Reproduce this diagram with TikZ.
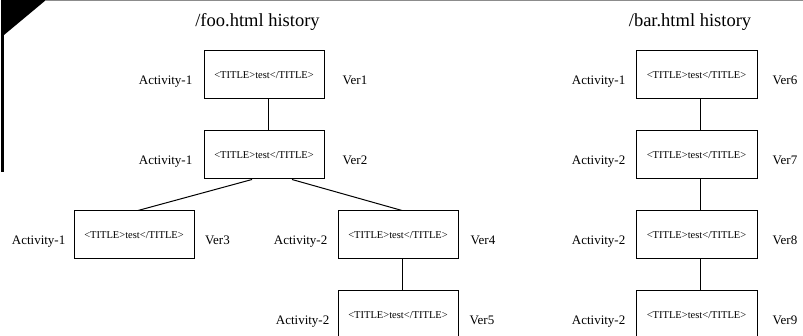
\documentclass[tikz,border=0pt]{standalone}
\usepackage{fontspec}
\setmainfont{Liberation Serif}
\usetikzlibrary{calc}
\tikzset{
  vbox/.style={draw=black, line width=1pt, minimum width=120pt, minimum height=48pt, inner sep=0pt, font=\fontsize{10.5}{12}\selectfont},
  wbox/.style={vbox, minimum width=121pt},
  act/.style={anchor=base east, inner sep=0pt, font=\fontsize{13}{15}\selectfont},
  ver/.style={anchor=base west, inner sep=0pt, font=\fontsize{13}{15}\selectfont},
  ttl/.style={anchor=base, inner sep=0pt, font=\fontsize{18.5}{21}\selectfont},
  link/.style={draw=black, line width=1pt}
}
\begin{document}
\begin{tikzpicture}[x=1pt,y=-1pt]
\useasboundingbox (0,0) rectangle (803,336);
\clip (0,0) rectangle (803,336);
% decoration
\fill[black] (1,0) -- (46,0) -- (4,35) -- (1,35) -- cycle;
\fill[black] (1,0) rectangle (4,172);
\draw[gray!90, line width=1.2pt] (46,0.6) -- (803,0.6);
% titles
\node[ttl] (t1) at (257.5,26.5) {/foo.html history};
\node[ttl] (t2) at (690,27) {/bar.html history};
% foo boxes
\node[vbox] (b1) at (264,75) {<TITLE>test</TITLE>};
\node[vbox] (b2) at (264,155) {<TITLE>test</TITLE>};
\node[vbox] (b3) at (134,235) {<TITLE>test</TITLE>};
\node[vbox] (b4) at (398,235) {<TITLE>test</TITLE>};
\node[vbox] (b5) at (398,315) {<TITLE>test</TITLE>};
% bar boxes
\node[wbox] (b6) at (696.5,75) {<TITLE>test</TITLE>};
\node[wbox] (b7) at (696.5,155) {<TITLE>test</TITLE>};
\node[wbox] (b8) at (696.5,235) {<TITLE>test</TITLE>};
\node[wbox] (b9) at (696.5,315) {<TITLE>test</TITLE>};
% labels
\node[act] (a1) at ($(b1.west)+(-11,9.3)$) {Activity-1};
\node[act] (a2) at ($(b2.west)+(-11,9.3)$) {Activity-1};
\node[act] (a3) at ($(b3.west)+(-8,9.3)$) {Activity-1};
\node[act] (a4) at ($(b4.west)+(-10,9.3)$) {Activity-2};
\node[act] (a5) at ($(b5.west)+(-8,9.3)$) {Activity-2};
\node[act] (a6) at ($(b6.west)+(-10,9.3)$) {Activity-1};
\node[act] (a7) at ($(b7.west)+(-10,9.3)$) {Activity-2};
\node[act] (a8) at ($(b8.west)+(-10,9.3)$) {Activity-2};
\node[act] (a9) at ($(b9.west)+(-10,9.3)$) {Activity-2};
\node[ver] (v1) at ($(b1.east)+(18,9.3)$) {Ver1};
\node[ver] (v2) at ($(b2.east)+(18,9.3)$) {Ver2};
\node[ver] (v3) at ($(b3.east)+(10.5,9.3)$) {Ver3};
\node[ver] (v4) at ($(b4.east)+(12,9.3)$) {Ver4};
\node[ver] (v5) at ($(b5.east)+(11,9.3)$) {Ver5};
\node[ver] (v6) at ($(b6.east)+(15,9.3)$) {Ver6};
\node[ver] (v7) at ($(b7.east)+(15,9.3)$) {Ver7};
\node[ver] (v8) at ($(b8.east)+(15,9.3)$) {Ver8};
\node[ver] (v9) at ($(b9.east)+(15,9.3)$) {Ver9};
% connectors
\draw[link] ($(b1.south)+(4,0)$) -- ($(b2.north)+(4,0)$);
\draw[link] ($(b2.south)+(-12,0)$) -- ($(b3.north)+(4,0)$);
\draw[link] ($(b2.south)+(28,0)$) -- ($(b4.north)+(4,0)$);
\draw[link] ($(b4.south)+(4,0)$) -- ($(b5.north)+(4,0)$);
\draw[link] ($(b6.south)+(3.5,0)$) -- ($(b7.north)+(3.5,0)$);
\draw[link] ($(b7.south)+(3.5,0)$) -- ($(b8.north)+(3.5,0)$);
\draw[link] ($(b8.south)+(3.5,0)$) -- ($(b9.north)+(3.5,0)$);
\end{tikzpicture}
\end{document}
